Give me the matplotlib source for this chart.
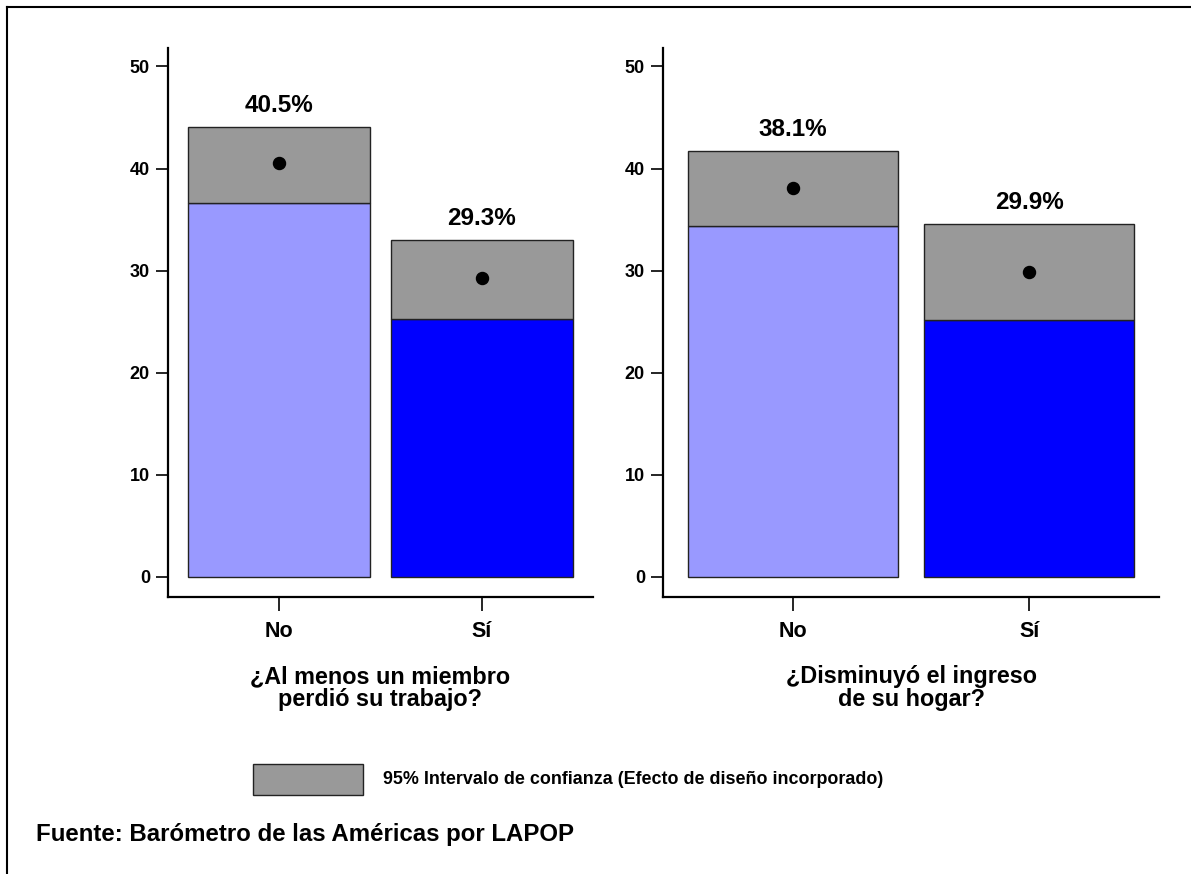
import matplotlib
matplotlib.use("Agg")
import matplotlib.pyplot as plt
from matplotlib.patches import Rectangle
from matplotlib.lines import Line2D

categories = ["No", "Sí"]
panel_titles = ["¿Al menos un miembro\nperdió su trabajo?", "¿Disminuyó el ingreso\nde su hogar?"]
means = [[40.5, 29.3], [38.1, 29.9]]
ci_low = [[36.6, 25.3], [34.4, 25.2]]
ci_high = [[44.1, 33.0], [41.7, 34.6]]
yticks = [0, 10, 20, 30, 40, 50]
legend_text = "95% Intervalo de confianza (Efecto de diseño incorporado)"
source_text = "Fuente: Barómetro de las Américas por LAPOP"

bar_colors = ["#9999FF", "#0000FF"]
ci_color = "#999999"
REG = ["Liberation Sans", "DejaVu Sans"]

W, H = 1191, 874
fig = plt.figure(figsize=(W / 100, H / 100), dpi=100)

def fx(px):
    return px / W

def fy(py):
    return 1 - py / H

axes_px = [(168, 593), (663, 1159)]
top_px, bot_px = 48, 597
widths = [0.9, 0.89]

for i, (l, r) in enumerate(axes_px):
    ax = fig.add_axes([fx(l), fy(bot_px), fx(r - l), fy(top_px) - fy(bot_px)])
    x = [0, 1]
    ax.bar(x, ci_low[i], width=widths[i], color=bar_colors, edgecolor="#222222", linewidth=1.0, zorder=2)
    heights = [h - lo for h, lo in zip(ci_high[i], ci_low[i])]
    ax.bar(x, heights, bottom=ci_low[i], width=widths[i], color=ci_color, edgecolor="#222222", linewidth=1.0, zorder=2)
    ax.scatter(x, means[i], s=75, color="black", zorder=3)
    for xi, m, hi in zip(x, means[i], ci_high[i]):
        ax.text(xi, hi + 2.1, f"{m:.1f}%", ha="center", va="center", fontsize=17.5,
                fontweight="bold", family=REG)
    ax.set_xlim(-0.55, 1.55)
    ax.set_ylim(-1.96, 51.8)
    ax.set_yticks(yticks)
    ax.set_yticklabels([str(t) for t in yticks], fontsize=13, fontweight="bold", family=REG)
    ax.set_xticks(x)
    ax.set_xticklabels(categories, fontsize=15.5, fontweight="bold", family=REG)
    ax.tick_params(axis="y", length=9, width=1.2, pad=4)
    ax.tick_params(axis="x", length=10, width=1.2, pad=7)
    for s in ["top", "right"]:
        ax.spines[s].set_visible(False)
    for s in ["left", "bottom"]:
        ax.spines[s].set_linewidth(1.6)
    cx = (l + r) / 2
    fig.text(fx(cx), fy(688), panel_titles[i], ha="center", va="center", fontsize=16.8,
             fontweight="bold", family=REG, linespacing=1.0)

# legend
fig.patches.append(Rectangle((fx(253), fy(795)), fx(110), fy(764) - fy(795), transform=fig.transFigure,
                             facecolor=ci_color, edgecolor="#222222", linewidth=1.0))
fig.text(fx(383), fy(780), legend_text, ha="left", va="center", fontsize=12.9,
         fontweight="bold", family=REG)
fig.text(fx(36), fy(835), source_text, ha="left", va="center", fontsize=17.3,
         fontweight="bold", family=REG)

# frame
fig.lines.append(Line2D([fx(7), fx(7)], [0, fy(7)], transform=fig.transFigure, color="black", linewidth=1.5))
fig.lines.append(Line2D([fx(7), 1], [fy(7), fy(7)], transform=fig.transFigure, color="black", linewidth=1.5))

fig.savefig("out.png", dpi=100)
